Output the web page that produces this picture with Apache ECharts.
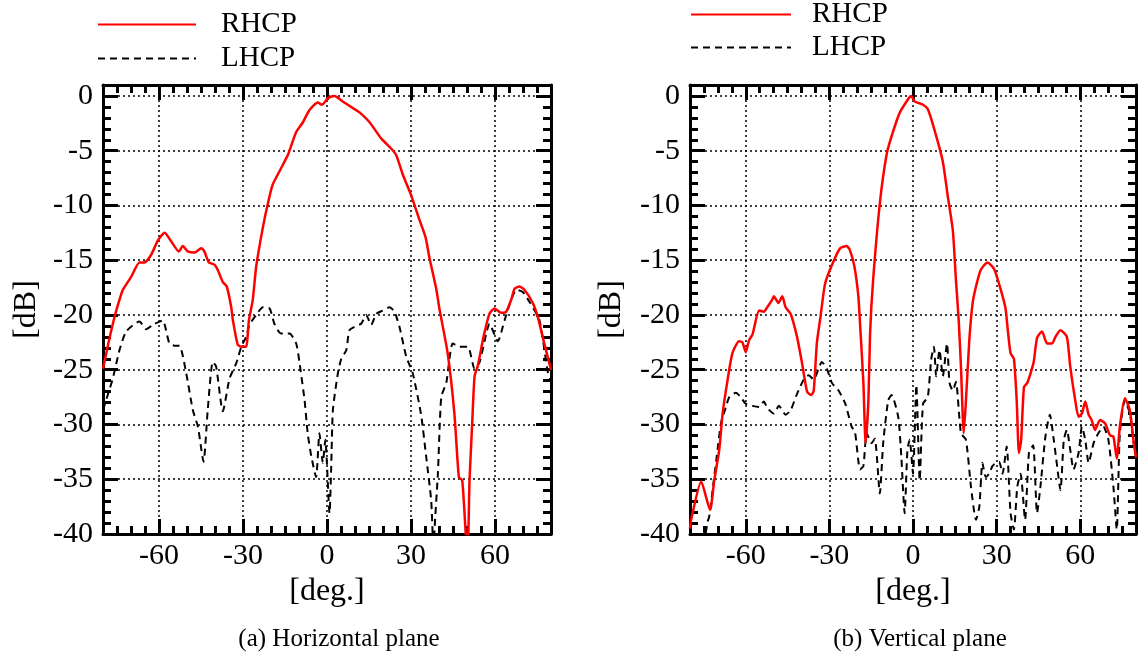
<!DOCTYPE html>
<html lang="en">
<head>
    <meta charset="UTF-8">
    <title>RHCP / LHCP patterns</title>
    <script src="https://cdn.jsdelivr.net/npm/echarts@6/dist/echarts.min.js"></script>
</head>
<body style="margin: 0; background: #fff">
<div id="container" style="width: 1139px; height: 659px"></div>
<script>
    // (a) horizontal plane
    var hRhcpAng = [-80, -78, -76, -74.1, -72.9, -69.9, -67, -65.2, -62.8, -60.4, -58, -55.6, -52.9, -51.5, -49.7, -47.3, -44.9, -43.8, -42.2, -40.2, -39, -37.2, -35.8, -34.2, -33.6, -31.9, -30.6, -28.9, -27.9, -26.5, -25.3, -22.9, -21.1, -19.4, -16.4, -14, -11, -8.6, -6.3, -3.3, -1.8, -0.6, 0.3, 2.7, 5.6, 9.8, 11.6, 15.2, 19.4, 22.9, 24.7, 27.1, 30.1, 33, 35.2, 36.6, 39, 40.2, 43.1, 45.5, 47.1, 48.3, 49.7, 50.3, 50.9, 51.8, 52.7, 53.9, 55.9, 58, 59.8, 62.2, 64, 65.8, 67, 68.7, 70.5, 73.5, 75.3, 77.5, 80];
    var hRhcp = [-24.9, -22.5, -20.3, -18.6, -17.7, -16.5, -15.2, -15.2, -14.5, -13.2, -12.5, -13.3, -14.2, -13.7, -14.2, -14.3, -13.9, -14.2, -15.2, -15.4, -15.9, -17.0, -17.4, -19.3, -20.5, -22.7, -22.9, -22.9, -20.5, -18.6, -15.6, -12.0, -9.8, -8.1, -6.6, -5.4, -3.3, -2.4, -1.3, -0.6, -0.8, -0.5, -0.2, 0, -0.5, -1.2, -1.5, -2.4, -3.9, -4.8, -5.4, -7.2, -9.1, -11.3, -12.9, -14.8, -17.6, -19.5, -23.5, -29.0, -34.8, -35.1, -40.5, -41, -35.1, -30.2, -25.6, -24.6, -22, -19.9, -19.4, -19.8, -19.7, -18.6, -17.6, -17.4, -17.7, -18.9, -20.2, -22.5, -25];
    var hLhcpAng = [-80, -78.3, -76.5, -74.1, -71.7, -67, -64.6, -62.2, -59.8, -58.6, -56.3, -54.5, -52.7, -50.3, -47.9, -46.1, -44.1, -42.6, -40.8, -39.6, -37.2, -34.8, -32.4, -30.6, -28.9, -27.7, -25.3, -22.9, -20.5, -18.8, -16.4, -13.4, -11, -9.8, -8, -6.9, -5.6, -3.9, -2.7, -1.5, -0.6, 0.9, 1.5, 2.1, 3.9, 5.1, 6.9, 8, 10.4, 12.2, 14, 15.8, 17.6, 19.9, 22.3, 24.1, 25.9, 28.3, 30.6, 33.6, 35.4, 37.2, 37.8, 38.1, 38.4, 39.6, 40.8, 42.6, 44.9, 47.3, 50.3, 52.7, 54.5, 56.9, 58, 61, 63.4, 65.8, 67.6, 69.9, 72.3, 75.9, 78.9, 80];
    var hLhcp = [-28.7, -27.3, -25.8, -23.2, -21.5, -20.6, -21.3, -20.9, -20.6, -20.5, -22.6, -22.8, -22.8, -25.3, -28.7, -30.2, -33.4, -28.7, -24.3, -24.7, -28.8, -25.8, -24.4, -22.9, -22.0, -20.9, -20, -19.3, -19.4, -20.8, -21.7, -21.7, -22.6, -24.4, -27.8, -30.8, -32.9, -34.8, -30.8, -33.5, -31.4, -38.1, -33.9, -28.7, -25.3, -24.0, -23.2, -21.4, -21.0, -20.8, -20, -20.9, -19.9, -19.6, -19.3, -19.7, -21.1, -23.8, -25.3, -29.1, -32.9, -36.9, -40.5, -42, -39.6, -34.5, -27.5, -26.2, -22.6, -22.9, -22.9, -24.9, -24.3, -21.7, -20.8, -22.4, -20.5, -18.6, -17.7, -17.9, -18.8, -20.5, -25.3, -26];

    // (b) vertical plane
    var vRhcpAng = [-80, -79.6, -76, -72.8, -71.3, -69.5, -68.3, -66.5, -64.8, -62.4, -61.2, -60, -58.8, -57.6, -55.2, -53.5, -52.3, -50.5, -49.9, -48.3, -46.9, -45.7, -43.9, -41.6, -39.8, -38, -36.5, -35.6, -34.5, -33.2, -31.5, -28.5, -26.1, -23.8, -22.6, -21, -19.6, -19, -17.8, -17, -16, -15.4, -14.3, -11.9, -9.5, -7.7, -4.7, -1.2, -0.6, 0.6, 3.6, 5.3, 7.7, 10.7, 12.5, 14.3, 15.4, 16.4, 17.2, 18.2, 19, 20.2, 21.4, 22.6, 24.3, 26.7, 29.1, 31.5, 33.2, 33.9, 35, 36.2, 37.2, 38, 38.8, 39.8, 41, 42.2, 43.3, 44.5, 46.3, 48.1, 49.9, 51.1, 52.9, 55.2, 56.4, 58.2, 59.4, 60.6, 61.8, 63, 64.1, 65.3, 67.1, 68.9, 70.7, 71.9, 73.1, 74.2, 76, 77.8, 79.2, 80];
    var vRhcp = [-39.5, -38.7, -35.2, -37.8, -35.1, -32.3, -29, -25.9, -23.5, -22.4, -22.5, -23.4, -22.3, -21.8, -19.6, -19.7, -19.3, -18.6, -18.3, -18.9, -18.3, -19.3, -19.9, -22, -24.4, -27.0, -27.3, -26.9, -22.6, -20.2, -17.1, -15.1, -13.9, -13.7, -14.1, -15.6, -18.3, -20.8, -26.2, -31.7, -27.8, -21.7, -16.8, -9.8, -5.4, -3.7, -1.5, -0.1, 0, -0.5, -0.8, -1.2, -3.1, -6.0, -9.2, -12.3, -16.8, -20.5, -24.7, -30.8, -27.8, -22.3, -18.9, -17.4, -15.9, -15.2, -15.8, -17.7, -19.4, -21.1, -23.5, -24.0, -27.8, -32.6, -31.4, -26.6, -26.2, -25.3, -24.3, -22.1, -21.5, -22.6, -22.6, -22.0, -21.4, -22.0, -24.7, -27.8, -29.3, -29.0, -27.9, -29.1, -29.6, -30.5, -29.6, -29.9, -31.0, -31.1, -33.1, -30.2, -27.6, -28.7, -31.7, -33];
    var vLhcpAng = [-75, -73.7, -73.1, -71.9, -70.1, -68.9, -67.1, -65.9, -63.5, -61.8, -60, -57.6, -55.2, -53.5, -52.3, -49.9, -48.1, -45.7, -43.9, -41.6, -39.2, -37.4, -35.6, -33.9, -32.7, -30.9, -29.1, -26.7, -24.3, -22, -20.8, -19, -17.8, -16.6, -14.9, -13.7, -11.9, -10.7, -8.9, -7.7, -5.3, -4.2, -3, -2, -1.2, 0, 1.2, 2.4, 3.6, 5.3, 6.5, 7.5, 8.3, 9.5, 10.7, 12.2, 13.1, 14.3, 15.4, 17.2, 19, 20.8, 22.6, 23.8, 24.9, 26.1, 27.3, 28.5, 29.7, 30.9, 32.1, 33.6, 35, 36.2, 37.4, 38.6, 40.2, 41.6, 43.1, 44.5, 45.7, 47.5, 49.1, 50.5, 51.4, 52.9, 54.1, 55.2, 56.4, 57.6, 59.4, 60.6, 61.8, 63, 64.8, 66.5, 68.3, 70.1, 71.9, 73.1, 74.2, 76, 77.8, 79, 80];
    var vLhcp = [-41, -38.9, -38.4, -36.0, -32.3, -29.9, -28.4, -27.5, -27.1, -27.5, -28.1, -28.3, -28.4, -27.9, -28.5, -29.0, -28.3, -29.1, -28.7, -27.2, -25.9, -25.5, -25.9, -24.9, -24.3, -24.9, -26.2, -26.9, -28.1, -30.2, -30.7, -34.1, -33.8, -30.8, -31.7, -31.3, -36.3, -31.7, -27.8, -27.3, -29.3, -32.9, -38.1, -32.3, -31.4, -34.5, -26.4, -35.1, -28.1, -27.5, -24.1, -22.9, -25.6, -23.2, -25.6, -22.6, -26.2, -26.9, -26.1, -30.8, -31.4, -35.7, -38.7, -37.5, -33.5, -34.8, -34.5, -33.8, -33.5, -33.4, -34.5, -32.0, -38.1, -39.6, -35.7, -34.5, -38.7, -32.6, -31.9, -38.1, -35.7, -31.1, -29.1, -31.4, -33.2, -36.0, -31.4, -30.5, -32.3, -34.1, -32.6, -30.2, -31.4, -33.5, -31.7, -30.8, -30.2, -31.4, -35.7, -39.6, -30.8, -27.8, -29.0, -31.4, -33];

    var xMajorTicks = [-80, -60, -30, 0, 30, 60, 80];
    var xTickLabels = [-60, -30, 0, 30, 60];
    var captions = ['(a) Horizontal plane', '(b) Vertical plane'];

    var font = '"Liberation Serif", "Times New Roman", serif';
    var black = '#000';

    function zip(a, b) {
        return a.map(function (v, i) { return [v, b[i]]; });
    }

    var grids = [
        {left: 103, top: 85, width: 448, height: 449},
        {left: 690, top: 85, width: 446, height: 449}
    ];
    var yNameGap = [60, 62];

    var xAxes = [], yAxes = [];
    grids.forEach(function (g, gi) {
        // bottom major
        xAxes.push({
            type: 'value', gridIndex: gi, position: 'bottom', min: -80, max: 80,
            axisLine: {show: true, onZero: false, lineStyle: {color: black, width: 3}},
            axisTick: {show: true, inside: true, length: 15, customValues: xMajorTicks, lineStyle: {color: black, width: 3}},
            axisLabel: {customValues: xTickLabels, margin: 7, fontSize: 30, fontFamily: font, color: black},
            splitLine: {show: true, lineStyle: {color: black, width: 1.5, type: [2, 3]}},
            name: '[deg.]', nameLocation: 'middle', nameGap: 41,
            nameTextStyle: {fontSize: 32, fontFamily: font, color: black}
        });
        // bottom minor
        xAxes.push({
            type: 'value', gridIndex: gi, position: 'bottom', min: -80, max: 80, interval: 5,
            axisLine: {show: false, onZero: false},
            axisTick: {show: true, inside: true, length: 8, lineStyle: {color: black, width: 3}},
            axisLabel: {show: false}, splitLine: {show: false}
        });
        // top major
        xAxes.push({
            type: 'value', gridIndex: gi, position: 'top', min: -80, max: 80,
            axisLine: {show: true, onZero: false, lineStyle: {color: black, width: 3}},
            axisTick: {show: true, inside: true, length: 15, customValues: xMajorTicks, lineStyle: {color: black, width: 3}},
            axisLabel: {show: false}, splitLine: {show: false}
        });
        // top minor
        xAxes.push({
            type: 'value', gridIndex: gi, position: 'top', min: -80, max: 80, interval: 5,
            axisLine: {show: false, onZero: false},
            axisTick: {show: true, inside: true, length: 8, lineStyle: {color: black, width: 3}},
            axisLabel: {show: false}, splitLine: {show: false}
        });

        // left major
        yAxes.push({
            type: 'value', gridIndex: gi, position: 'left', min: -40, max: 1, interval: 5,
            axisLine: {show: true, onZero: false, lineStyle: {color: black, width: 3}},
            axisTick: {show: true, inside: true, length: 15, lineStyle: {color: black, width: 3}},
            axisLabel: {
                margin: 10, fontSize: 30, fontFamily: font, color: black,
                formatter: function (v) { return v % 5 === 0 ? String(v) : ''; }
            },
            splitLine: {show: true, lineStyle: {color: black, width: 1.5, type: [2, 3]}},
            name: '[dB]', nameLocation: 'middle', nameGap: yNameGap[gi], nameRotate: 90,
            nameTextStyle: {fontSize: 32, fontFamily: font, color: black}
        });
        // left minor
        yAxes.push({
            type: 'value', gridIndex: gi, position: 'left', min: -40, max: 1, interval: 1,
            axisLine: {show: false, onZero: false},
            axisTick: {show: true, inside: true, length: 8, lineStyle: {color: black, width: 3}},
            axisLabel: {show: false}, splitLine: {show: false}
        });
        // right major
        yAxes.push({
            type: 'value', gridIndex: gi, position: 'right', min: -40, max: 1, interval: 5,
            axisLine: {show: true, onZero: false, lineStyle: {color: black, width: 3}},
            axisTick: {show: true, inside: true, length: 15, lineStyle: {color: black, width: 3}},
            axisLabel: {show: false}, splitLine: {show: false}
        });
        // right minor
        yAxes.push({
            type: 'value', gridIndex: gi, position: 'right', min: -40, max: 1, interval: 1,
            axisLine: {show: false, onZero: false},
            axisTick: {show: true, inside: true, length: 8, lineStyle: {color: black, width: 3}},
            axisLabel: {show: false}, splitLine: {show: false}
        });
    });

    function rhcp(gi, data) {
        return {
            name: 'RHCP', type: 'line', xAxisIndex: gi * 4, yAxisIndex: gi * 4,
            data: data, symbol: 'none', smooth: 0.2, z: 3,
            lineStyle: {color: '#ff0000', width: 2.5}, itemStyle: {color: '#ff0000'}
        };
    }

    function lhcp(gi, data) {
        return {
            name: 'LHCP', type: 'line', xAxisIndex: gi * 4, yAxisIndex: gi * 4,
            data: data, symbol: 'none', smooth: 0.2, z: 2,
            lineStyle: {color: black, width: 2, type: [7, 5]}, itemStyle: {color: black}
        };
    }

    var option = {
        animation: false,
        backgroundColor: '#fff',
        grid: grids,
        xAxis: xAxes,
        yAxis: yAxes,
        legend: [
            {left: 92, top: 5, orient: 'vertical', itemWidth: 98, itemHeight: 14, itemGap: 5,
                selectedMode: false, data: ['RHCP', 'LHCP'], itemStyle: {opacity: 0},
                textStyle: {fontSize: 29, fontFamily: font, color: black, padding: [0, 0, 0, 20]}},
            {left: 685, top: -5, orient: 'vertical', itemWidth: 100, itemHeight: 14, itemGap: 4,
                selectedMode: false, data: ['RHCP', 'LHCP'], itemStyle: {opacity: 0},
                textStyle: {fontSize: 29, fontFamily: font, color: black, padding: [0, 0, 0, 16]}}
        ],
        title: [
            {text: captions[0], left: 334, top: 622, textAlign: 'center',
                textStyle: {fontSize: 25, fontWeight: 'normal', fontFamily: font, color: black}},
            {text: captions[1], left: 915, top: 622, textAlign: 'center',
                textStyle: {fontSize: 25, fontWeight: 'normal', fontFamily: font, color: black}}
        ],
        series: [
            rhcp(0, zip(hRhcpAng, hRhcp)),
            lhcp(0, zip(hLhcpAng, hLhcp)),
            rhcp(1, zip(vRhcpAng, vRhcp)),
            lhcp(1, zip(vLhcpAng, vLhcp))
        ]
    };

    var myChart = echarts.init(document.getElementById('container'));
    myChart.setOption(option);
</script>
</body>
</html>
